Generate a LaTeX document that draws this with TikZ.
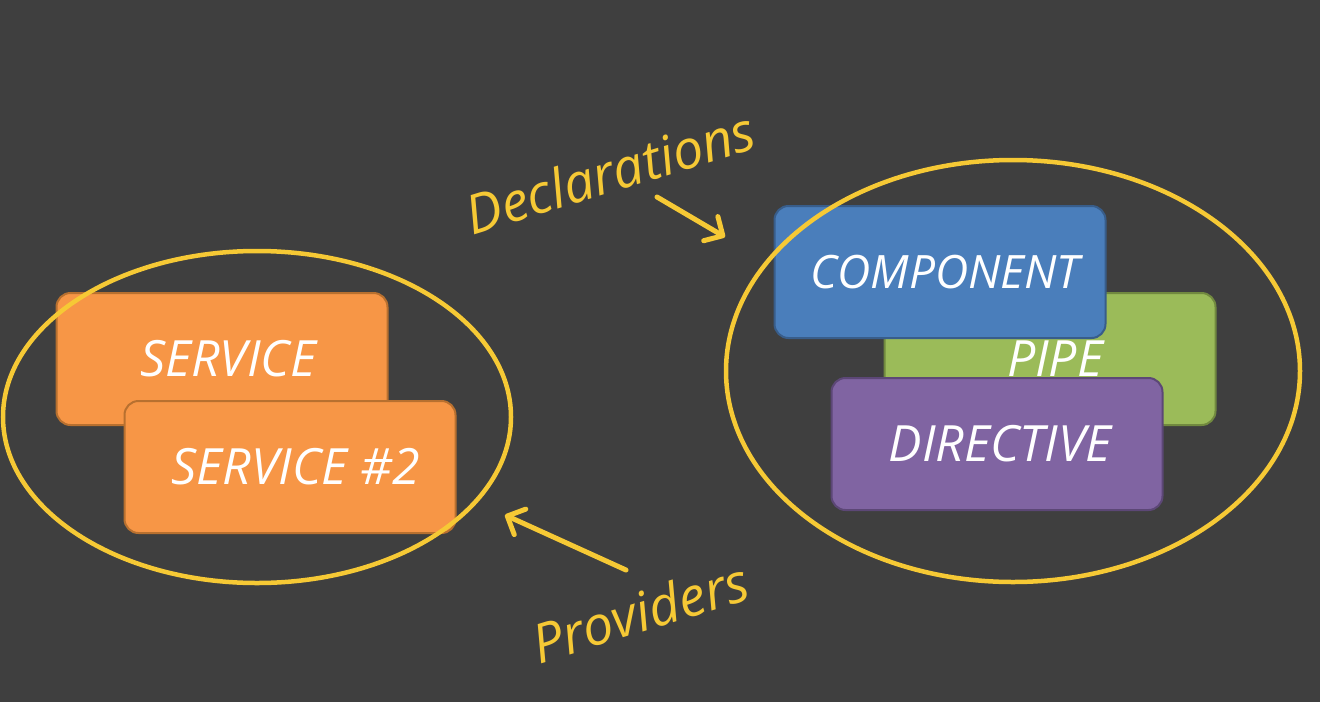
\documentclass[tikz,border=0pt]{standalone}
\usepackage{fontspec}
\setmainfont{Open Sans}
\usetikzlibrary{arrows.meta,shapes.geometric}

\definecolor{board}{HTML}{3F3F3F}
\definecolor{chalk}{HTML}{F6C935}
\definecolor{orangefill}{HTML}{F79646}
\definecolor{orangeline}{HTML}{B8702F}
\definecolor{bluefill}{HTML}{4A7EBB}
\definecolor{blueline}{HTML}{385D8A}
\definecolor{greenfill}{HTML}{9BBB59}
\definecolor{greenline}{HTML}{71893F}
\definecolor{purplefill}{HTML}{8064A2}
\definecolor{purpleline}{HTML}{5C4776}

\tikzset{
  card/.style={rectangle, rounded corners=14pt, line width=2pt,
    minimum width=331pt, minimum height=132pt, inner sep=0pt,
    text=white, font=\fontsize{50}{56}\selectfont\itshape},
  ring/.style={draw=chalk, line width=4.5pt, ellipse, inner sep=0pt},
  note/.style={text=chalk, font=\fontsize{54}{60}\selectfont\itshape, rotate=17, inner sep=0pt},
  pointer/.style={draw=chalk, line width=5pt, line cap=round,
    -{Straight Barb[length=14pt, width=28pt, line cap=round, line join=round]}}
}

\begin{document}
\begin{tikzpicture}[x=1pt, y=-1pt]
  \fill[board] (0,0) rectangle (1320,702);
  \useasboundingbox (0,0) rectangle (1320,702);

  % providers group
  \node[card, fill=orangefill, draw=orangeline] (svc1) at (222,359) {\hspace*{12pt}SERVICE};
  \node[card, fill=orangefill, draw=orangeline] (svc2) at (290,467) {\hspace*{12pt}SERVICE \#2};
  \node[ring, minimum width=508pt, minimum height=332pt] (prov) at (257,417) {};

  % declarations group: pipe sits behind the other two cards
  \node[card, fill=greenfill, draw=greenline] (pipe) at (1050,359) {\hspace*{10pt}PIPE};
  \node[card, fill=bluefill, draw=blueline, font=\fontsize{46}{52}\selectfont\itshape] (comp) at (940,272) {\hspace*{10pt}COMPONENT};
  \node[card, fill=purplefill, draw=purpleline] (dir) at (997,444) {\hspace*{6pt}DIRECTIVE};
  \node[ring, minimum width=574pt, minimum height=422pt] (decl) at (1013,371) {};

  % handwritten labels with arrows
  \node[note] (decltxt) at (610,172) {Declarations};
  \coordinate (declfrom) at (657,197);
  \coordinate (declto) at (725,237);
  \draw[pointer] (declfrom) -- (declto);

  \node[note] (provtxt) at (640,612) {Providers};
  \coordinate (provfrom) at (626,570);
  \coordinate (provto) at (505,515);
  \draw[pointer] (provfrom) -- (provto);
\end{tikzpicture}
\end{document}
